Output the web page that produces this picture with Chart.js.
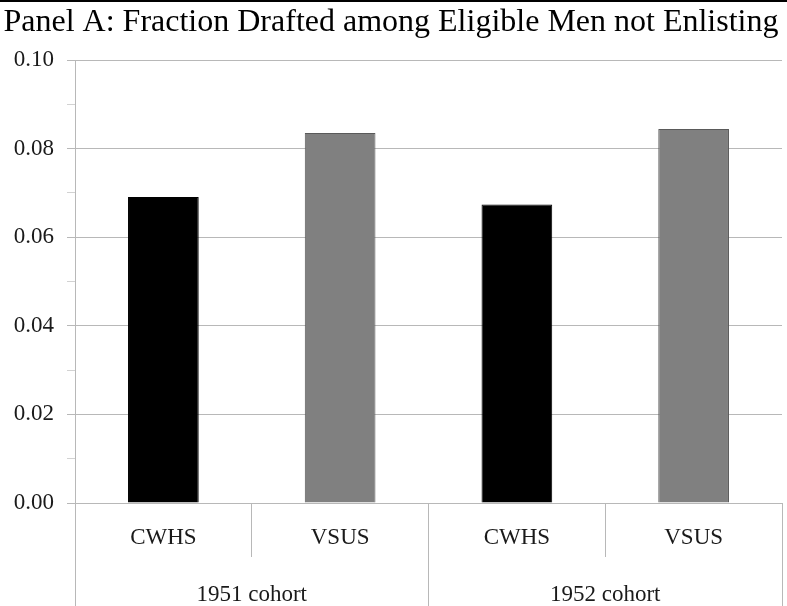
<!DOCTYPE html>
<html>
<head>
<meta charset="utf-8">
<script src="https://cdn.jsdelivr.net/npm/chart.js@4/dist/chart.umd.min.js"></script>
<style>
  html, body { margin: 0; padding: 0; background: #fff; }
  #wrap { width: 787px; height: 606px; position: relative; }
</style>
</head>
<body>
<div id="wrap"><canvas id="c" width="787" height="606"></canvas></div>
<script>
const titleText = 'Panel A: Fraction Drafted among Eligible Men not Enlisting';
const categories = ['CWHS', 'VSUS', 'CWHS', 'VSUS'];
const groups = ['1951 cohort', '1952 cohort'];
const fractionDrafted = [0.0691, 0.0835, 0.0674, 0.0844];
const yMin = 0.00;
const yMax = 0.10;
const yStep = 0.01;

const SERIF = "'Liberation Serif', 'Times New Roman', serif";
const GRID = '#b8b8b8';
const TEXT = '#1a1a1a';

const topRule = {
  id: 'topRule',
  afterDraw(chart) {
    const ctx = chart.ctx;
    ctx.save();
    ctx.fillStyle = '#000';
    ctx.fillRect(0, 0, chart.width, 2);
    ctx.restore();
  }
};

Chart.defaults.animation = false;

new Chart(document.getElementById('c'), {
  type: 'bar',
  data: {
    labels: categories,
    datasets: [{
      data: fractionDrafted,
      backgroundColor: categories.map(c => c === 'CWHS' ? '#000000' : '#808080'),
      borderColor: categories.map(c => c === 'CWHS' ? '#000000' : '#5a5a5a'),
      borderWidth: 1,
      barPercentage: 0.4,
      categoryPercentage: 1.0,
      xAxisID: 'x',
      yAxisID: 'y'
    }]
  },
  options: {
    responsive: false,
    animation: false,
    layout: { padding: { left: 0, right: 5, top: 0, bottom: 0 } },
    plugins: {
      legend: { display: false },
      tooltip: { enabled: false },
      title: {
        display: true,
        text: titleText,
        color: '#000',
        font: { family: SERIF, size: 32, weight: 'normal' },
        padding: { top: 3, bottom: 18.6 }
      }
    },
    scales: {
      y: {
        min: yMin,
        max: yMax,
        afterFit(s) { s.width = 75; },
        border: { display: true, color: GRID, width: 1 },
        grid: {
          color: ctx => (Math.round(ctx.tick.value * 100) % 2 === 0) ? GRID : 'rgba(0,0,0,0)',
          tickColor: ctx => (Math.round(ctx.tick.value * 100) % 2 === 0) ? GRID : '#d2d2d2',
          tickLength: 8,
          lineWidth: 1
        },
        ticks: {
          stepSize: yStep,
          padding: 13,
          color: TEXT,
          font: { family: SERIF, size: 23 },
          callback: v => (Math.round(v * 100) % 2 === 0) ? Number(v).toFixed(2) : ''
        }
      },
      x: {
        position: 'bottom',
        offset: true,
        afterFit(s) { s.height = 54; },
        border: { display: true, color: GRID, width: 1 },
        grid: {
          offset: true,
          drawOnChartArea: false,
          drawTicks: true,
          tickLength: 54,
          color: GRID,
          tickColor: GRID
        },
        ticks: {
          padding: -33,
          color: TEXT,
          maxRotation: 0,
          autoSkip: false,
          font: { family: SERIF, size: 23 }
        }
      },
      x2: {
        type: 'category',
        labels: groups,
        position: 'bottom',
        offset: true,
        afterFit(s) { s.height = 49; },
        border: { display: false },
        grid: {
          offset: true,
          drawOnChartArea: false,
          drawTicks: true,
          tickLength: 49,
          color: GRID,
          tickColor: GRID
        },
        ticks: {
          padding: -25,
          color: TEXT,
          maxRotation: 0,
          autoSkip: false,
          font: { family: SERIF, size: 23 }
        }
      }
    }
  },
  plugins: [topRule]
});
</script>
</body>
</html>
